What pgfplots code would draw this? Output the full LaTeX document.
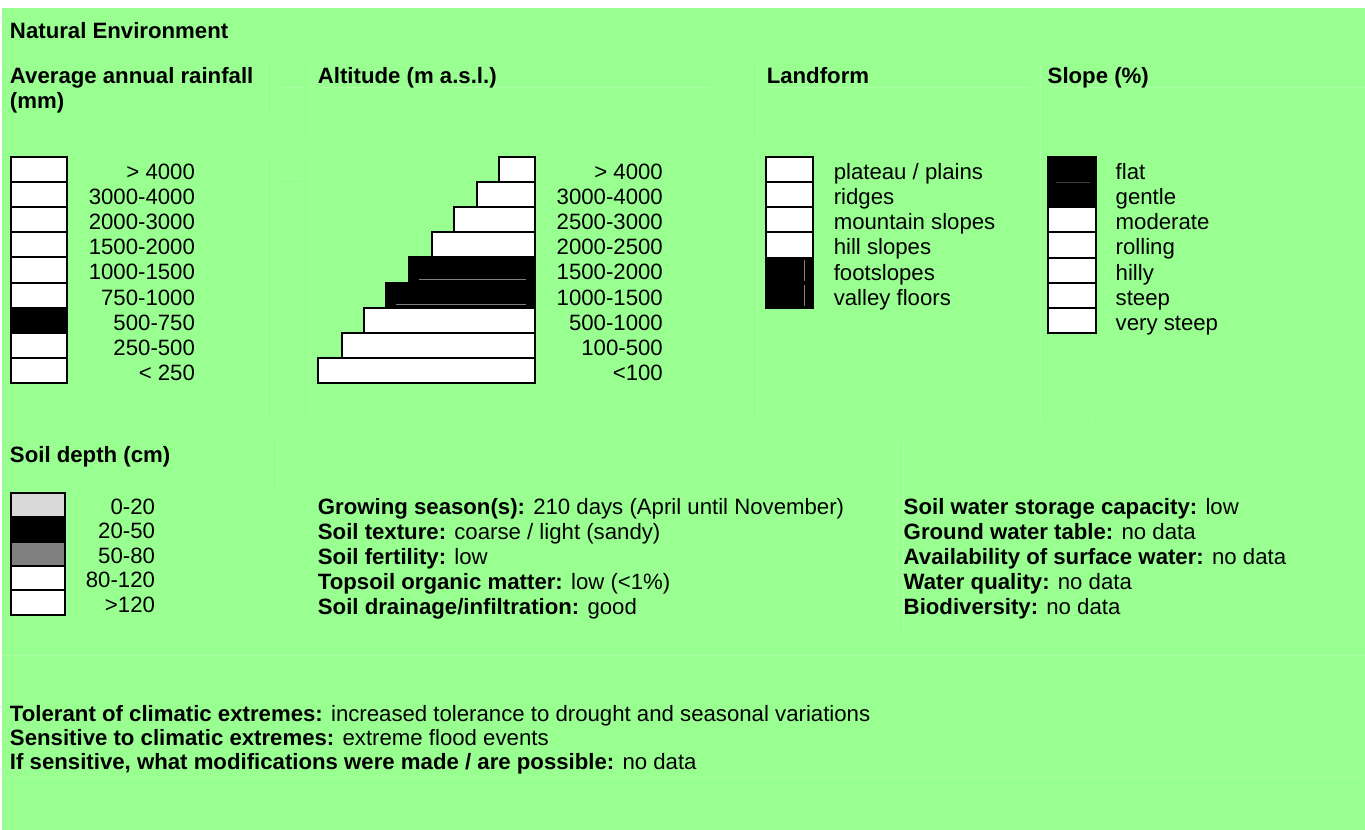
\documentclass[border=0pt]{standalone}
\usepackage{pgfplots}
\pgfplotsset{compat=1.18}
\usepackage{fontspec}
\setmainfont{Liberation Sans}
\definecolor{bg}{RGB}{153,255,145}
\definecolor{faint}{RGB}{170,255,163}
\definecolor{lgray}{RGB}{217,217,217}
\definecolor{mgray}{RGB}{128,128,128}
\tikzset{lbl/.style={font=\fontsize{22.2}{25}\selectfont, inner sep=0pt, outer sep=0pt, text=black, yshift=-2pt}}
\newcommand{\cellbox}[5]{\addplot[draw=black, line width=2pt, fill=#5] coordinates {(#1,#3) (#2,#3) (#2,#4) (#1,#4)} --cycle;}
\newcommand{\fline}[4]{\addplot[faint, line width=0.8pt] coordinates {(#1,#2) (#3,#4)};}
\begin{document}
\begin{tikzpicture}
\begin{axis}[
  scale only axis, width=1365pt, height=830pt,
  xmin=0, xmax=1365, ymin=0, ymax=830, y dir=reverse,
  hide axis, clip=false,
]
% page and background
\addplot[fill=white, draw=none] coordinates {(0,0) (1365,0) (1365,830) (0,830)} --cycle;
\addplot[fill=bg, draw=none] coordinates {(2,8) (1365,8) (1365,830) (2,830)} --cycle;
% faint table lines
\fline{266}{62}{266}{112}
\fline{266}{157}{266}{420}
\fline{280}{87}{303}{87}
\fline{280}{178}{303}{178}
\fline{310}{62}{310}{140}
\fline{310}{157}{310}{420}
\fline{318}{87}{715}{87}
\fline{758}{62}{758}{140}
\fline{758}{157}{758}{420}
\fline{765}{87}{1035}{87}
\fline{1041}{62}{1041}{420}
\fline{1048}{87}{1365}{87}
\fline{277}{441}{277}{490}
\fline{904}{441}{904}{630}
\fline{898}{441}{898}{630}
\fline{1093}{420}{1093}{425}
\fline{2}{656}{1365}{656}
\fline{2}{778}{1359}{778}
% ---- Average annual rainfall
\cellbox{11}{67}{157}{182}{white}
\cellbox{11}{67}{182}{207}{white}
\cellbox{11}{67}{207}{232}{white}
\cellbox{11}{67}{232}{257}{white}
\cellbox{11}{67}{257}{283}{white}
\cellbox{11}{67}{283}{308}{white}
\cellbox{11}{67}{308}{333}{black}
\cellbox{11}{67}{333}{358}{white}
\cellbox{11}{67}{358}{383}{white}
% ---- Altitude
\cellbox{499}{535}{157}{182}{white}
\cellbox{477}{535}{182}{207}{white}
\cellbox{454}{535}{207}{232}{white}
\cellbox{432}{535}{232}{257}{white}
\cellbox{409}{535}{257}{283}{black}
\cellbox{386}{535}{283}{308}{black}
\cellbox{364}{535}{308}{333}{white}
\cellbox{342}{535}{333}{358}{white}
\cellbox{318}{535}{358}{383}{white}
\addplot[mgray, line width=0.8pt] coordinates {(419,279) (526,279)};
\addplot[mgray, line width=0.8pt] coordinates {(396,304) (526,304)};
% ---- Landform
\cellbox{766}{813}{157}{182}{white}
\cellbox{766}{813}{182}{207}{white}
\cellbox{766}{813}{207}{232}{white}
\cellbox{766}{813}{232}{258}{white}
\cellbox{766}{813}{258}{283}{black}
\cellbox{766}{813}{283}{308}{black}
\addplot[mgray, line width=0.8pt] coordinates {(805,260) (805,281)};
\addplot[mgray, line width=0.8pt] coordinates {(805,285) (805,306)};
% ---- Slope
\cellbox{1048}{1096}{157}{182}{black}
\cellbox{1048}{1096}{182}{207}{black}
\cellbox{1048}{1096}{207}{232}{white}
\cellbox{1048}{1096}{232}{258}{white}
\cellbox{1048}{1096}{258}{283}{white}
\cellbox{1048}{1096}{283}{308}{white}
\cellbox{1048}{1096}{308}{333}{white}
\addplot[mgray!50!black, line width=0.6pt] coordinates {(1056,182) (1090,182)};
% ---- Soil depth
\cellbox{11}{65}{493}{517.4}{lgray}
\cellbox{11}{65}{517.4}{541.8}{black}
\cellbox{11}{65}{541.8}{566.2}{mgray}
\cellbox{11}{65}{566.2}{590.6}{white}
\cellbox{11}{65}{590.6}{615}{white}
% ---- headings
\node[lbl, anchor=base west] at (axis cs:10,37) {\bfseries Natural Environment};
\node[lbl, anchor=base west] at (axis cs:10,82) {\bfseries Average annual rainfall};
\node[lbl, anchor=base west] at (axis cs:10,107) {\bfseries (mm)};
\node[lbl, anchor=base west] at (axis cs:318,82) {\bfseries Altitude (m a.s.l.)};
\node[lbl, anchor=base west] at (axis cs:767,82) {\bfseries Landform};
\node[lbl, anchor=base west] at (axis cs:1048,82) {\bfseries Slope (\%)};
\node[lbl, anchor=base west] at (axis cs:10,461) {\bfseries Soil depth (cm)};
% ---- rainfall labels
\node[lbl, anchor=base east] at (axis cs:195,177.5) {> 4000};
\node[lbl, anchor=base east] at (axis cs:195,202.5) {3000-4000};
\node[lbl, anchor=base east] at (axis cs:195,227.5) {2000-3000};
\node[lbl, anchor=base east] at (axis cs:195,252.5) {1500-2000};
\node[lbl, anchor=base east] at (axis cs:195,278) {1000-1500};
\node[lbl, anchor=base east] at (axis cs:195,303.5) {750-1000};
\node[lbl, anchor=base east] at (axis cs:195,328.5) {500-750};
\node[lbl, anchor=base east] at (axis cs:195,353.5) {250-500};
\node[lbl, anchor=base east] at (axis cs:195,378.5) {< 250};
% ---- altitude labels
\node[lbl, anchor=base east] at (axis cs:663,177.5) {> 4000};
\node[lbl, anchor=base east] at (axis cs:663,202.5) {3000-4000};
\node[lbl, anchor=base east] at (axis cs:663,227.5) {2500-3000};
\node[lbl, anchor=base east] at (axis cs:663,252.5) {2000-2500};
\node[lbl, anchor=base east] at (axis cs:663,278) {1500-2000};
\node[lbl, anchor=base east] at (axis cs:663,303.5) {1000-1500};
\node[lbl, anchor=base east] at (axis cs:663,328.5) {500-1000};
\node[lbl, anchor=base east] at (axis cs:663,353.5) {100-500};
\node[lbl, anchor=base east] at (axis cs:663,378.5) {<100};
% ---- landform labels
\node[lbl, anchor=base west] at (axis cs:834,177.5) {plateau / plains};
\node[lbl, anchor=base west] at (axis cs:834,202.5) {ridges};
\node[lbl, anchor=base west] at (axis cs:834,227.5) {mountain slopes};
\node[lbl, anchor=base west] at (axis cs:834,253) {hill slopes};
\node[lbl, anchor=base west] at (axis cs:834,278.5) {footslopes};
\node[lbl, anchor=base west] at (axis cs:834,303.5) {valley floors};
% ---- slope labels
\node[lbl, anchor=base west] at (axis cs:1116,177.5) {flat};
\node[lbl, anchor=base west] at (axis cs:1116,202.5) {gentle};
\node[lbl, anchor=base west] at (axis cs:1116,227.5) {moderate};
\node[lbl, anchor=base west] at (axis cs:1116,253) {rolling};
\node[lbl, anchor=base west] at (axis cs:1116,278.5) {hilly};
\node[lbl, anchor=base west] at (axis cs:1116,303.5) {steep};
\node[lbl, anchor=base west] at (axis cs:1116,328.5) {very steep};
% ---- soil depth labels
\node[lbl, anchor=base east] at (axis cs:155,512.5) {0-20};
\node[lbl, anchor=base east] at (axis cs:155,537) {20-50};
\node[lbl, anchor=base east] at (axis cs:155,561.5) {50-80};
\node[lbl, anchor=base east] at (axis cs:155,586) {80-120};
\node[lbl, anchor=base east] at (axis cs:155,610.5) {>120};
% ---- middle column
\node[lbl, anchor=base west] at (axis cs:318,512.5) {\textbf{Growing season(s):} 210 days (April until November)};
\node[lbl, anchor=base west] at (axis cs:318,537.5) {\textbf{Soil texture:} coarse / light (sandy)};
\node[lbl, anchor=base west] at (axis cs:318,562.5) {\textbf{Soil fertility:} low};
\node[lbl, anchor=base west] at (axis cs:318,587.5) {\textbf{Topsoil organic matter:} low (<1\%)};
\node[lbl, anchor=base west] at (axis cs:318,612.5) {\textbf{Soil drainage/infiltration:} good};
% ---- right column
\node[lbl, anchor=base west] at (axis cs:904,512.5) {\textbf{Soil water storage capacity:} low};
\node[lbl, anchor=base west] at (axis cs:904,537.5) {\textbf{Ground water table:} no data};
\node[lbl, anchor=base west] at (axis cs:904,562.5) {\textbf{Availability of surface water:} no data};
\node[lbl, anchor=base west] at (axis cs:904,587.5) {\textbf{Water quality:} no data};
\node[lbl, anchor=base west] at (axis cs:904,612.5) {\textbf{Biodiversity:} no data};
% ---- bottom
\node[lbl, anchor=base west] at (axis cs:10,720) {\textbf{Tolerant of climatic extremes:} increased tolerance to drought and seasonal variations};
\node[lbl, anchor=base west] at (axis cs:10,744) {\textbf{Sensitive to climatic extremes:} extreme flood events};
\node[lbl, anchor=base west] at (axis cs:10,768) {\textbf{If sensitive, what modifications were made / are possible:} no data};
\end{axis}
\end{tikzpicture}
\end{document}
